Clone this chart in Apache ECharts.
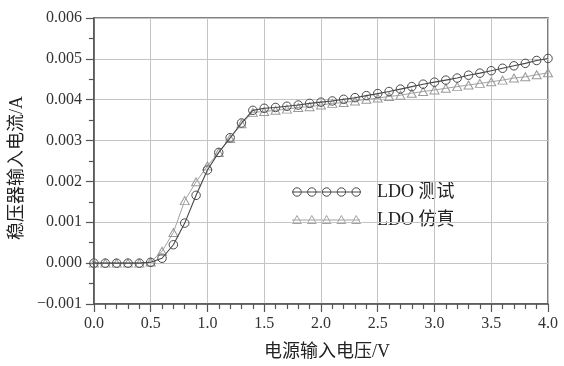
<!DOCTYPE html>
<html>
<head>
<meta charset="utf-8">
<script src="https://cdn.jsdelivr.net/npm/echarts@6/dist/echarts.min.js"></script>
<style>
  html, body { margin: 0; padding: 0; background: #fff; }
  #chart { width: 564px; height: 366px; }
</style>
</head>
<body>
<div id="chart"></div>
<script>
// Input voltage sweep (V)
const voltage = [
  0.0, 0.1, 0.2, 0.3, 0.4, 0.5, 0.6, 0.7, 0.8, 0.9,
  1.0, 1.1, 1.2, 1.3, 1.4, 1.5, 1.6, 1.7, 1.8, 1.9,
  2.0, 2.1, 2.2, 2.3, 2.4, 2.5, 2.6, 2.7, 2.8, 2.9,
  3.0, 3.1, 3.2, 3.3, 3.4, 3.5, 3.6, 3.7, 3.8, 3.9, 4.0
];
// Regulator input current (A), bench measurement
const measured = [
  0, 0, 0, 0, 0, 0.00002, 0.00012, 0.00045, 0.00098, 0.00166,
  0.00228, 0.00271, 0.00307, 0.00343, 0.00374, 0.00379, 0.00381, 0.00384, 0.00387, 0.00391,
  0.00394, 0.00397, 0.00401, 0.00405, 0.00410, 0.00415, 0.00420, 0.00426, 0.00432, 0.00438,
  0.00443, 0.00448, 0.00453, 0.00460, 0.00465, 0.00471, 0.00477, 0.00483, 0.00489, 0.00496, 0.00501
];
// Regulator input current (A), simulation
const simulated = [
  0, 0, 0, 0, 0, 0.00003, 0.00029, 0.00075, 0.00153, 0.00199,
  0.00238, 0.00271, 0.00305, 0.00341, 0.00369, 0.00371, 0.00374, 0.00377, 0.00381, 0.00383,
  0.00387, 0.00391, 0.00393, 0.00397, 0.00401, 0.00404, 0.00408, 0.00411, 0.00416, 0.00420,
  0.00424, 0.00428, 0.00432, 0.00436, 0.00440, 0.00444, 0.00448, 0.00453, 0.00456, 0.00461, 0.00466
];
const seriesNames = ['LDO 测试', 'LDO 仿真'];
const xTitle = '电源输入电压/V';
const yTitle = '稳压器输入电流/A';

const serif = '"Liberation Serif", "Noto Sans CJK SC", serif';
const darkColor = '#474747';
const lightColor = '#a2a2a2';

const pairs = (ys) => voltage.map((v, i) => [v, ys[i]]);

const chart = echarts.init(document.getElementById('chart'), null, { renderer: 'canvas' });

// Legend drawn as a short line with five markers, like the plotted series
function legendRow(y, color, kind, label) {
  const children = [{
    type: 'line',
    shape: { x1: 292, y1: y, x2: 360, y2: y },
    style: { stroke: color, lineWidth: 1 }
  }];
  for (let k = 0; k < 5; k++) {
    const cx = 297 + k * 14.8;
    if (kind === 'circle') {
      children.push({
        type: 'circle',
        shape: { cx: cx, cy: y, r: 4.2 },
        style: { fill: 'transparent', stroke: color, lineWidth: 1 }
      });
    } else {
      children.push({
        type: 'polygon',
        shape: { points: [[cx, y - 4.5], [cx - 4.5, y + 3.5], [cx + 4.5, y + 3.5]] },
        style: { fill: 'transparent', stroke: color, lineWidth: 1 }
      });
    }
  }
  children.push({
    type: 'text',
    style: {
      text: label, x: 376, y: y, verticalAlign: 'middle',
      font: '18px ' + serif, fill: '#222',
      backgroundColor: '#fff', padding: [1, 2, 1, 1]
    }
  });
  return { type: 'group', children: children, z: 100 };
}

chart.setOption({
  animation: false,
  backgroundColor: '#fff',
  grid: {
    left: 93, right: 16, top: 18, bottom: 60,
    show: true, borderColor: '#555', borderWidth: 1.5, backgroundColor: 'transparent'
  },
  xAxis: {
    type: 'value', min: 0, max: 4, interval: 0.5,
    name: xTitle, nameLocation: 'middle', nameGap: 39,
    nameTextStyle: { fontFamily: serif, fontSize: 18, color: '#222', padding: [0, 0, 0, 12] },
    axisLine: { show: true, onZero: false, lineStyle: { color: '#555', width: 1.5 } },
    axisTick: { show: true, length: 8, lineStyle: { color: '#555', width: 1.2 } },
    minorTick: { show: true, splitNumber: 5, length: 5, lineStyle: { color: '#555', width: 1.2 } },
    axisLabel: {
      fontFamily: serif, fontSize: 16, color: '#333', margin: 12,
      formatter: (v) => v.toFixed(1)
    },
    splitLine: { show: true, lineStyle: { color: '#c4c4c4', width: 1 } }
  },
  yAxis: {
    type: 'value', min: -0.001, max: 0.006, interval: 0.001,
    name: yTitle, nameLocation: 'middle', nameGap: 67, nameRotate: 90,
    nameTextStyle: { fontFamily: serif, fontSize: 18, color: '#222', padding: [0, 14, 0, 0] },
    axisLine: { show: true, onZero: false, lineStyle: { color: '#555', width: 1.5 } },
    axisTick: { show: true, length: 8, lineStyle: { color: '#555', width: 1.2 } },
    minorTick: { show: true, splitNumber: 2, length: 5, lineStyle: { color: '#555', width: 1.2 } },
    axisLabel: {
      fontFamily: serif, fontSize: 16, color: '#333', margin: 12,
      formatter: (v) => (v < -1e-9 ? '\u2212' + Math.abs(v).toFixed(3) : Math.abs(v).toFixed(3))
    },
    splitLine: { show: true, lineStyle: { color: '#c4c4c4', width: 1 } }
  },
  series: [
    {
      name: seriesNames[1], type: 'line', data: pairs(simulated),
      symbol: 'triangle', symbolSize: [9, 8], showAllSymbol: true,
      lineStyle: { color: lightColor, width: 1 },
      itemStyle: { color: 'transparent', borderColor: '#999', borderWidth: 1 },
      emphasis: { disabled: true }, z: 2
    },
    {
      name: seriesNames[0], type: 'line', data: pairs(measured),
      symbol: 'circle', symbolSize: 8.5, showAllSymbol: true,
      lineStyle: { color: darkColor, width: 1.1 },
      itemStyle: { color: 'transparent', borderColor: '#4a4a4a', borderWidth: 1 },
      emphasis: { disabled: true }, z: 3
    }
  ],
  graphic: [
    legendRow(192, darkColor, 'circle', seriesNames[0]),
    legendRow(220, lightColor, 'triangle', seriesNames[1])
  ]
});
</script>
</body>
</html>
